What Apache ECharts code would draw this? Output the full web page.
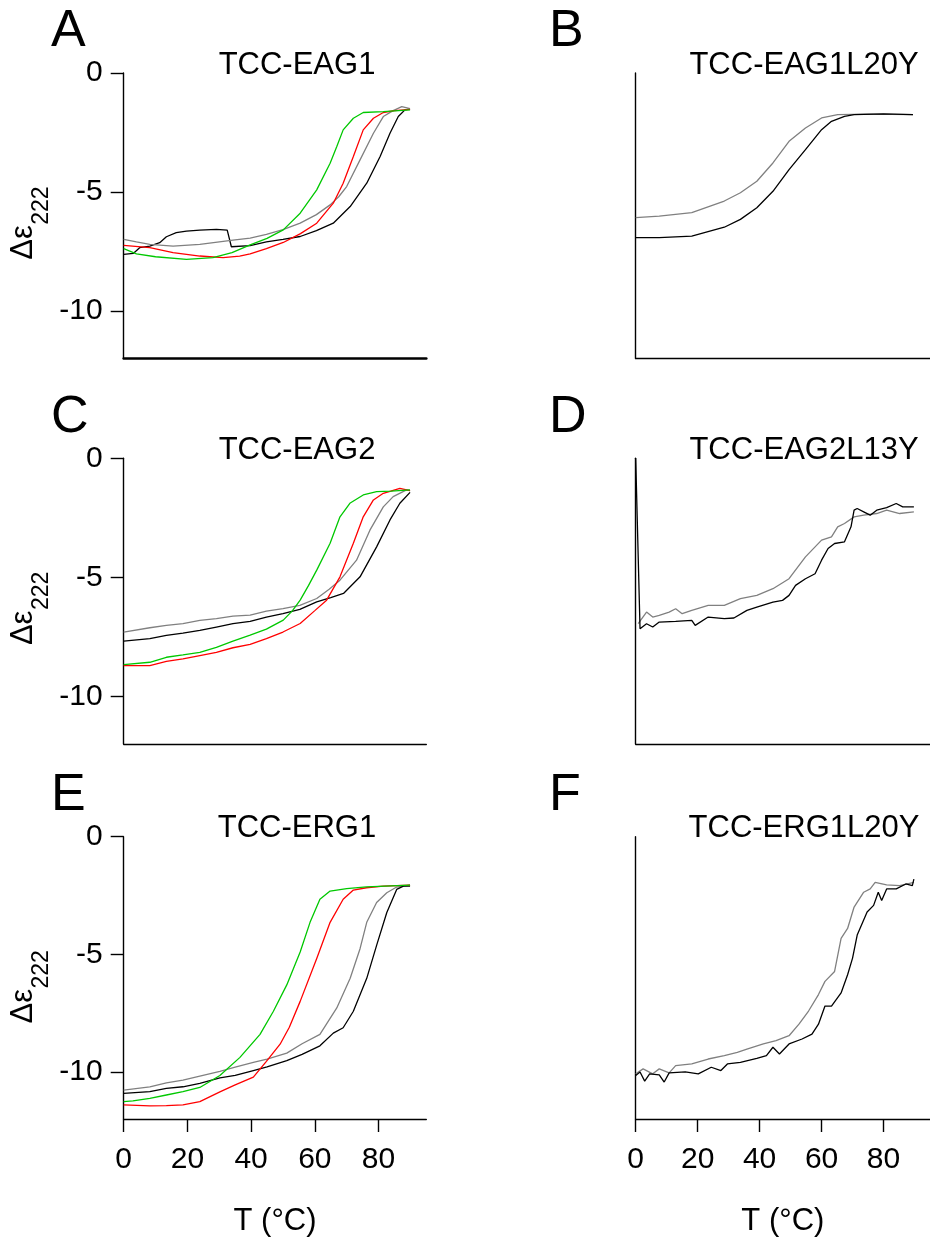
<!DOCTYPE html>
<html>
<head>
<meta charset="utf-8">
<script src="https://cdn.jsdelivr.net/npm/echarts@6/dist/echarts.min.js"></script>
<style>
  html, body { margin: 0; padding: 0; background: #fff; }
  #chart { width: 930px; height: 1238px; }
</style>
</head>
<body>
<div id="chart"></div>
<script>
// ---- data: [T (°C), Δε222] ----
// A  TCC-EAG1
const eag1Black = [[0,-7.62],[3,-7.58],[5,-7.34],[8.2,-7.27],[11.3,-7.13],[13.4,-6.88],[16.5,-6.71],[19.7,-6.64],[23.9,-6.6],[29.1,-6.57],[32.5,-6.6],[33.8,-7.3],[39.7,-7.25],[44.8,-7.1],[50,-6.99],[55.4,-6.87],[60.5,-6.62],[65.8,-6.31],[71.1,-5.61],[76.3,-4.63],[80.5,-3.51],[83.6,-2.53],[86.2,-1.83],[88.3,-1.55],[89.9,-1.51]];
const eag1Gray = [[0,-6.99],[4,-7.1],[8.2,-7.2],[15.5,-7.27],[23.9,-7.2],[34.3,-7.02],[39.7,-6.94],[44.8,-6.78],[50,-6.58],[55.4,-6.31],[60.5,-5.95],[64.8,-5.54],[67.5,-5.2],[70,-4.77],[74.2,-3.65],[78.4,-2.53],[81.5,-1.83],[84.6,-1.58],[87.3,-1.41],[89.9,-1.5]];
const eag1Red = [[0,-7.24],[8.2,-7.34],[15.5,-7.55],[23.9,-7.69],[31.2,-7.76],[36.4,-7.69],[39.7,-7.6],[44.8,-7.38],[50.1,-7.12],[55.5,-6.75],[60.6,-6.31],[65.8,-5.47],[68.9,-4.63],[72.1,-3.51],[75.2,-2.39],[78.4,-1.9],[81.5,-1.66],[85,-1.58],[89.9,-1.53]];
const eag1Green = [[0,-7.38],[4,-7.6],[10,-7.72],[19.7,-7.83],[28,-7.76],[34,-7.55],[39.7,-7.22],[45,-6.95],[50.1,-6.59],[55.4,-5.89],[60.6,-4.91],[64.8,-3.79],[66.9,-3.09],[68.9,-2.39],[72.1,-1.9],[75.2,-1.66],[81.5,-1.62],[89.9,-1.55]];

// B  TCC-EAG1L20Y
const eag1L20YBlack = [[0,-6.92],[7.6,-6.92],[18.1,-6.85],[28.6,-6.48],[33.8,-6.15],[39.1,-5.66],[44.3,-4.97],[49.5,-4.06],[54.8,-3.22],[60,-2.38],[63.2,-2.03],[67.4,-1.82],[70.5,-1.75],[80,-1.72],[89.5,-1.75]];
const eag1L20YGray = [[0,-6.08],[7.6,-6.01],[18.1,-5.87],[28.6,-5.38],[33.8,-5.03],[39.1,-4.55],[44.3,-3.78],[49.5,-2.87],[54.8,-2.31],[60,-1.89],[65.2,-1.75],[75,-1.73],[89.5,-1.75]];

// C  TCC-EAG2
const eag2Black = [[0,-7.68],[8.2,-7.58],[13.4,-7.44],[18.6,-7.35],[23.9,-7.23],[29.1,-7.09],[34.3,-6.95],[39.7,-6.85],[44.8,-6.67],[50,-6.53],[55.3,-6.35],[60.6,-6.03],[65,-5.85],[69,-5.68],[74.2,-4.98],[79.4,-3.72],[83.6,-2.59],[86.7,-1.89],[89.9,-1.43]];
const eag2Gray = [[0,-7.3],[8.2,-7.12],[13.4,-7.02],[18.6,-6.95],[23.9,-6.81],[29.1,-6.74],[34.3,-6.63],[39.7,-6.59],[44.8,-6.42],[50,-6.32],[55.3,-6.18],[60.6,-5.89],[64.5,-5.5],[67.9,-5.12],[73.1,-4.28],[77.3,-3.02],[81.5,-2.04],[84.6,-1.61],[88.8,-1.33],[89.9,-1.36]];
const eag2Red = [[0,-8.71],[8.2,-8.71],[13.4,-8.53],[18.6,-8.43],[23.9,-8.29],[29.1,-8.15],[34.3,-7.96],[39.7,-7.82],[44.8,-7.58],[50,-7.3],[55.4,-6.94],[60,-6.4],[63.7,-5.96],[67.9,-4.98],[72.1,-3.57],[75.2,-2.46],[78.4,-1.75],[81.5,-1.47],[86.7,-1.26],[89.9,-1.36]];
const eag2Green = [[0,-8.67],[8.2,-8.57],[13.4,-8.36],[18.6,-8.26],[23.9,-8.15],[29.1,-7.94],[34.3,-7.68],[39.7,-7.43],[44.8,-7.18],[50.1,-6.8],[53,-6.4],[55.4,-5.96],[58,-5.35],[60.6,-4.7],[64.8,-3.57],[67.9,-2.46],[71,-1.89],[75.2,-1.54],[79.4,-1.4],[84,-1.38],[89.9,-1.33]];

// D  TCC-EAG2L13Y
const eag2L13YBlack = [[0,0],[1.4,-7.16],[3.5,-6.95],[5.5,-7.09],[7.6,-6.88],[12.9,-6.85],[18.1,-6.81],[19.2,-7.02],[23.4,-6.67],[28.6,-6.74],[31.7,-6.71],[35.9,-6.39],[39.1,-6.25],[44.3,-6.04],[47.4,-5.97],[49.5,-5.76],[51.6,-5.34],[54.8,-5.06],[57.9,-4.85],[60,-4.28],[62.1,-3.79],[64.2,-3.58],[67.4,-3.51],[69.5,-2.88],[70.5,-2.18],[71.5,-2.11],[73.6,-2.25],[75.7,-2.39],[77.8,-2.18],[81,-2.07],[84.1,-1.9],[86.2,-2.04],[89.8,-2.04]];
const eag2L13YGray = [[0.8,-6.95],[3.5,-6.46],[5.5,-6.67],[7.6,-6.6],[10.8,-6.46],[12.9,-6.32],[15,-6.53],[18.1,-6.39],[23.4,-6.18],[28.6,-6.18],[33.8,-5.9],[39.1,-5.76],[44.3,-5.48],[49.5,-5.06],[54.8,-4.14],[60,-3.44],[63.2,-3.3],[65.2,-2.88],[67.4,-2.74],[70.5,-2.46],[73.6,-2.39],[77.8,-2.32],[81,-2.18],[85.2,-2.32],[89.8,-2.25]];

// E  TCC-ERG1
const erg1Black = [[0,-10.91],[8.2,-10.84],[13.4,-10.7],[18.6,-10.63],[23.9,-10.49],[30.2,-10.25],[35,-10.15],[40.7,-9.94],[45,-9.78],[51.2,-9.52],[56,-9.25],[61.6,-8.89],[65.8,-8.35],[68.9,-8.12],[72.1,-7.42],[76.3,-6.02],[79.4,-4.62],[82.6,-3.22],[85.7,-2.24],[87.8,-2.1],[89.9,-2.1]];
const erg1Gray = [[0,-10.77],[8.2,-10.63],[13.4,-10.46],[18.6,-10.35],[23.9,-10.18],[30.2,-9.98],[35,-9.8],[40.7,-9.59],[45,-9.45],[51.2,-9.2],[56,-8.8],[61.6,-8.4],[66.9,-7.28],[71.1,-6.02],[74.2,-4.76],[76.3,-3.64],[79.4,-2.8],[82.6,-2.38],[85.7,-2.14],[89.9,-2.06]];
const erg1Red = [[0,-11.4],[8.2,-11.44],[13.4,-11.43],[18.6,-11.4],[23.9,-11.26],[30.2,-10.85],[35,-10.55],[40.7,-10.22],[44.8,-9.55],[49.1,-8.82],[52,-8.1],[55.4,-7.0],[60.6,-5.18],[64.8,-3.64],[68.9,-2.66],[72.1,-2.27],[76.2,-2.17],[81.5,-2.1],[89.9,-2.06]];
const erg1Green = [[0,-11.26],[2.9,-11.23],[8.2,-11.12],[13.4,-10.98],[18.6,-10.84],[23.9,-10.66],[30.2,-10.15],[36.5,-9.38],[42.8,-8.4],[47,-7.42],[51.2,-6.3],[55.4,-4.9],[58.5,-3.64],[61.6,-2.66],[64.8,-2.31],[70,-2.21],[76.2,-2.13],[89.9,-2.06]];

// F  TCC-ERG1L20Y
const erg1L20YBlack = [[0,-10.15],[1.4,-10.0],[2.9,-10.39],[4.5,-10.08],[7.6,-10.12],[9.2,-10.43],[10.8,-10.04],[16,-10.0],[20.2,-10.08],[24.4,-9.8],[27.5,-9.94],[29.6,-9.66],[33.8,-9.59],[39.1,-9.42],[42.2,-9.31],[44.3,-8.95],[46.4,-9.24],[49.5,-8.81],[53.7,-8.6],[56.9,-8.39],[59,-7.97],[61.1,-7.2],[63.2,-7.2],[66.3,-6.64],[68.4,-5.87],[70,-5.16],[71.5,-4.18],[74.7,-3.2],[76.8,-2.92],[78.3,-2.36],[79.4,-2.71],[81,-2.22],[84.1,-2.22],[87.2,-2.01],[89.3,-2.08],[89.8,-1.8]];
const erg1L20YGray = [[0,-10.08],[2.4,-9.87],[5.5,-10.08],[7.6,-9.87],[10.8,-10.04],[12.9,-9.73],[18.1,-9.66],[23.4,-9.45],[28.6,-9.31],[32.8,-9.17],[35.9,-9.03],[41.2,-8.81],[45.3,-8.67],[49.5,-8.46],[52.7,-7.97],[55.8,-7.41],[59,-6.71],[61.1,-6.15],[64.2,-5.73],[66.3,-4.32],[68.4,-3.9],[70.5,-2.99],[73.6,-2.36],[75.7,-2.22],[77.3,-1.94],[81,-2.05],[85.2,-2.08],[89.8,-1.94]];

const panelTitles = ['TCC-EAG1', 'TCC-EAG1L20Y', 'TCC-EAG2', 'TCC-EAG2L13Y', 'TCC-ERG1', 'TCC-ERG1L20Y'];
const panelLetters = ['A', 'B', 'C', 'D', 'E', 'F'];
const yTicks = [0, -5, -10];
const xTicks = [0, 20, 40, 60, 80];

const BLACK = '#000000';
const GRAY = '#808080';
const RED = '#ff0000';
const GREEN = '#00c800';

const panelSeries = [
  [[eag1Black, BLACK], [eag1Gray, GRAY], [eag1Red, RED], [eag1Green, GREEN]],
  [[eag1L20YGray, GRAY], [eag1L20YBlack, BLACK]],
  [[eag2Gray, GRAY], [eag2Black, BLACK], [eag2Red, RED], [eag2Green, GREEN]],
  [[eag2L13YGray, GRAY], [eag2L13YBlack, BLACK]],
  [[erg1Gray, GRAY], [erg1Black, BLACK], [erg1Red, RED], [erg1Green, GREEN]],
  [[erg1L20YGray, GRAY], [erg1L20YBlack, BLACK]],
];

const FONT = 'Liberation Sans, Arial, sans-serif';
const colLeft = [123.7, 635.7];
const rowTop = [73, 458.3, 836.7];
const plotW = 302.6;
const plotH = 285.6;

const chart = echarts.init(document.getElementById('chart'), null, { renderer: 'canvas' });

const grid = [], xAxis = [], yAxis = [], series = [], graphic = [];

for (let i = 0; i < 6; i++) {
  const col = i % 2;
  const row = Math.floor(i / 2);
  const left = colLeft[col];
  const top = rowTop[row];
  const isLeft = col === 0;
  const isBottom = row === 2;
  const mid = top + plotH / 2;

  grid.push({ left: left, top: top, width: plotW, height: plotH });

  xAxis.push({
    type: 'value', gridIndex: i, min: 0, max: 95,
    axisLine: { onZero: false, lineStyle: { color: '#000', width: i === 0 ? 2.6 : 1.4 } },
    axisTick: { show: isBottom, customValues: xTicks, length: 13, lineStyle: { color: '#000', width: 1.4 } },
    axisLabel: { show: isBottom, customValues: xTicks, margin: 26, color: '#000', fontSize: 30, fontFamily: FONT },
    splitLine: { show: false },
    name: isBottom ? 'T (°C)' : '',
    nameLocation: 'middle', nameGap: 87,
    nameTextStyle: { color: '#000', fontSize: 31, fontFamily: FONT },
  });

  yAxis.push({
    type: 'value', gridIndex: i, min: -12, max: 0,
    axisLine: { onZero: false, lineStyle: { color: '#000', width: 1.4 } },
    axisTick: { show: isLeft, customValues: yTicks, length: 13, lineStyle: { color: '#000', width: 1.4 } },
    axisLabel: { show: isLeft, customValues: yTicks, margin: 21, color: '#000', fontSize: 30, fontFamily: FONT },
    splitLine: { show: false },
  });

  panelSeries[i].forEach(function (s) {
    series.push({
      type: 'line', xAxisIndex: i, yAxisIndex: i,
      data: s[0], showSymbol: false, symbol: 'none', smooth: false,
      lineStyle: { color: s[1], width: 1.3 },
      animation: false, silent: true,
    });
  });

  // panel letter
  graphic.push({
    type: 'text', left: isLeft ? 51 : 549, top: top - 67,
    style: { text: panelLetters[i], font: '52px ' + FONT, fill: '#000' },
  });
  // panel title
  graphic.push({
    type: 'text', x: isLeft ? 297 : 804, y: top - 8,
    style: { text: panelTitles[i], font: '31px ' + FONT, fill: '#000', align: 'center', verticalAlign: 'middle' },
  });
  // y-axis name: Δε with subscript 222, rotated
  if (isLeft) {
    graphic.push({
      type: 'text', x: 23, y: mid + 44, rotation: Math.PI / 2,
      style: { text: 'Δε', font: '31px ' + FONT, fill: '#000', align: 'left', verticalAlign: 'middle' },
    });
    graphic.push({
      type: 'text', x: 42, y: mid + 9, rotation: Math.PI / 2,
      style: { text: '222', font: '23px ' + FONT, fill: '#000', align: 'left', verticalAlign: 'middle' },
    });
  }
}

chart.setOption({
  animation: false,
  backgroundColor: '#fff',
  grid: grid,
  xAxis: xAxis,
  yAxis: yAxis,
  series: series,
  graphic: graphic,
});
</script>
</body>
</html>
